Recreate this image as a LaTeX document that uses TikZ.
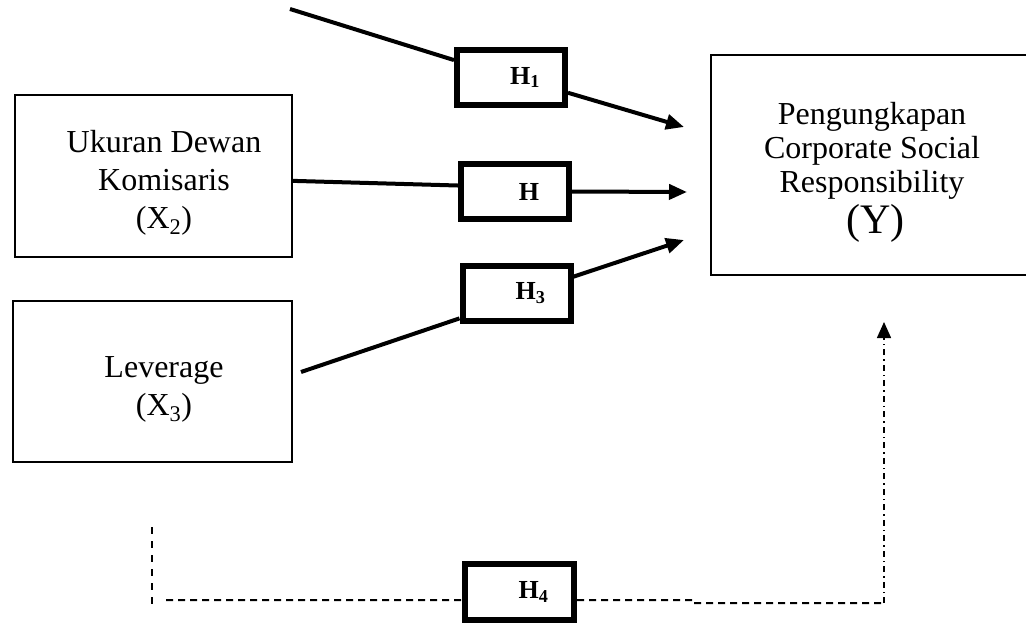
\documentclass[tikz,border=0pt]{standalone}
\usepackage{fontspec}
\setmainfont{Liberation Serif}
\usetikzlibrary{arrows.meta, positioning, calc}

\tikzset{
  varbox/.style={draw, line width=2pt, inner sep=0pt},
  vartext/.style={align=center, inner sep=0pt, font=\fontsize{32}{38}\selectfont},
  hbox/.style={draw, line width=6pt, minimum width=108pt, minimum height=55pt, inner sep=0pt},
  hlab/.style={xshift=14pt, font=\fontsize{26}{30}\selectfont\bfseries},
  path arrow/.style={line width=4pt, -{Triangle[length=18pt,width=15pt]}},
  path line/.style={line width=4pt},
  dash left/.style={line width=2pt, dash pattern=on 7pt off 7pt},
  dash bottom/.style={line width=2pt, dash pattern=on 7pt off 5pt},
  dash right/.style={line width=1.5pt, dash pattern=on 6pt off 4pt on 1.5pt off 4pt}
}

\begin{document}
\begin{tikzpicture}[x=1pt, y=-1pt]
\useasboundingbox (0,0) rectangle (1026,624);

% Variables
\node[varbox, minimum width=277pt, minimum height=162pt] (x2) at (153.5,176) {};
\node[vartext] (x2txt) at (164,183) {Ukuran Dewan\\Komisaris\\(X\textsubscript{2})};
\node[varbox, minimum width=279pt, minimum height=161pt] (x3) at (152.5,381.5) {};
\node[vartext] (x3txt) at (164,389) {Leverage\\(X\textsubscript{3})};
\node[varbox, minimum width=316pt, minimum height=220pt] (y) at (869,165) {};
\node[vartext, font=\fontsize{32}{34}\selectfont] (ytxt) at (872,172)
  {Pengungkapan\\Corporate Social\\Responsibility\\[4pt]{\fontsize{42}{42}\selectfont\,(Y)}};

% Hypotheses
\node[hbox, label={[hlab]center:H\textsubscript{1}}] (h1) at (511,77.5) {};
\node[hbox, label={[hlab]center:H}] (h2) at (515,191.5) {};
\node[hbox, label={[hlab]center:H\textsubscript{3}}] (h3) at (516.5,293) {};
\node[hbox, minimum width=109pt, minimum height=56pt, label={[hlab]center:H\textsubscript{4}}] (h4) at (519.5,592) {};

% Free ends
\coordinate (s1) at (290,9);
\coordinate (s3) at (301,372);
\coordinate (t1) at (684,127);
\coordinate (t2) at (687,192);
\coordinate (t3) at (684,240);
\coordinate (b1) at (152,527);
\coordinate (b2) at (152,604);
\coordinate (b3) at (166,600);
\coordinate (b4) at (692,600);
\coordinate (b5) at (692,603);
\coordinate (b6) at (884,603);
\coordinate (t4) at (884,322);

% Connections
\draw[path line] (s1) -- (h1.163);
\draw[path arrow] (h1.-15) -- (t1);
\draw[path line] (x2.-2) -- (h2.174.5);
\draw[path arrow] (h2.east) -- (t2);
\draw[path line] (s3) -- (h3.204);
\draw[path arrow] (h3.16) -- (t3);

% Moderation path
\draw[dash left] (b1) -- (b2);
\draw[dash bottom] (b3) -- (h4.188);
\draw[dash bottom] (h4.-8) -- (b4) -- (b5) -- (b6);
\draw[dash right, -{Triangle[length=16pt,width=14pt]}] (b6) -- (t4);
\end{tikzpicture}
\end{document}
